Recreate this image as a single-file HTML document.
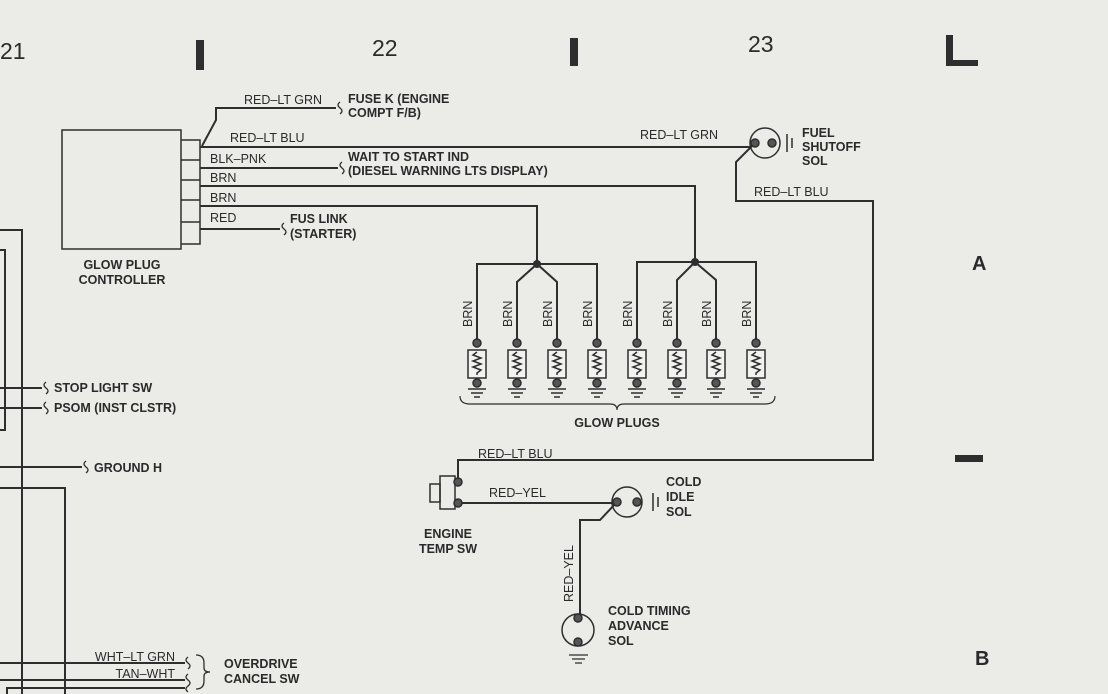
<!DOCTYPE html>
<html><head><meta charset="utf-8"><style>
html,body{margin:0;padding:0;background:#ebebe7;}
svg{display:block;}
text{font-family:"Liberation Sans",sans-serif;fill:#2a2a2a;}
.b{font-weight:bold;font-size:12.5px;}
.w{font-size:12.5px;}
</style></head><body>
<svg width="1108" height="694" viewBox="0 0 1108 694" xmlns="http://www.w3.org/2000/svg">
<defs>
<g id="p" stroke="#2e2e2e" stroke-width="1.5" fill="none"><circle cx="0" cy="343" r="4" fill="#555"/><rect x="-9" y="350" width="18" height="28" fill="#f2f2ee"/><path d="M0 352 l-4 3 l8 3 l-8 3 l8 3 l-8 3 l8 3 l-4 3 v2"/><circle cx="0" cy="383" r="4" fill="#555"/><path d="M-9 389 H9 M-6 393 H6 M-3 397 H3"/></g>
</defs>
<rect width="1108" height="694" fill="#ebebe7"/>
<g stroke="#2e2e2e" stroke-width="2" fill="none">
<path d="M0 230 H22 V694"/>
<path d="M0 250 H5 V430 H0"/>
<path d="M0 388 H42"/><path d="M0 408 H42"/>
<path d="M0 467 H82"/>
<path d="M0 488 H65 V694"/>
<path d="M0 663 H185"/><path d="M0 680 H185"/>
<path d="M7 694 V688 H185"/>
<rect x="62" y="130" width="119" height="119" stroke-width="1.5"/>
<path d="M181 140 H200 V244 H181 M181 160 H200 M181 180 H200 M181 200 H200 M181 222 H200" stroke-width="1.5"/>
<path d="M202 146 L216 120 V108 H336"/>
<path d="M200 147 H750"/>
<path d="M200 168 H338"/>
<path d="M200 186 H695 V262"/>
<path d="M200 206 H537 V264"/>
<path d="M200 229 H280"/>
<path d="M477 343 V264 H597 V343"/>
<path d="M537 264 L517 282 V343 M537 264 L557 282 V343"/>
<path d="M637 343 V262 H756 V343"/>
<path d="M695 262 L677 280 V343 M695 262 L716 280 V343"/>
<path d="M460 396 Q460 404 470 404 H610 Q617 404 617 410 Q617 404 624 404 H765 Q775 404 775 396" stroke-width="1.2"/>
<circle cx="765" cy="143" r="15" stroke-width="1.5"/>
<path d="M755 143 L736 162 V201 H873 V460 H458 V482"/>
<path d="M787 134 V152 M792 138 V148" stroke-width="1.5"/>
<rect x="440" y="476" width="15" height="33" stroke-width="1.5"/>
<rect x="430" y="484" width="10" height="18" stroke-width="1.5"/>
<path d="M458 503 H617"/>
<circle cx="627" cy="502" r="15" stroke-width="1.5"/>
<path d="M653 493 V511 M658 497 V507" stroke-width="1.5"/>
<path d="M617 502 L600 520 H580 V618"/>
<circle cx="578" cy="630" r="16" stroke-width="1.5"/>
<path d="M569 655 H588 M572 659 H585 M575 663 H582" stroke-width="1.3"/>
<path d="M340 102 q-4 3 0 6 q4 3 0 6 M342 162 q-4 3 0 6 q4 3 0 6 M284 223 q-4 3 0 6 q4 3 0 6 M46 382 q-4 3 0 6 q4 3 0 6 M46 402 q-4 3 0 6 q4 3 0 6 M86 461 q-4 3 0 6 q4 3 0 6 M188 657 q-4 3 0 6 q4 3 0 6 M188 674 q-4 3 0 6 q4 3 0 6 M188 686 q-4 3 0 6" stroke-width="1.3"/>
<path d="M196 655 q8 0 8 8 v5 q0 4 6 4 q-6 0 -6 4 v5 q0 8 -8 8" stroke-width="1.3"/>
</g>
<g fill="#555" stroke="#2e2e2e" stroke-width="1.5">
<circle cx="755" cy="143" r="4"/><circle cx="772" cy="143" r="4"/>
<circle cx="458" cy="482" r="4"/><circle cx="458" cy="503" r="4"/>
<circle cx="617" cy="502" r="4"/><circle cx="637" cy="502" r="4"/>
<circle cx="578" cy="618" r="4"/><circle cx="578" cy="642" r="4"/>
</g>
<use href="#p" x="477"/><use href="#p" x="517"/><use href="#p" x="557"/><use href="#p" x="597"/>
<use href="#p" x="637"/><use href="#p" x="677"/><use href="#p" x="716"/><use href="#p" x="756"/>
<g fill="#2e2e2e">
<circle cx="537" cy="264" r="4"/><circle cx="695" cy="262" r="4"/>
<rect x="196" y="40" width="8" height="30"/><rect x="570" y="38" width="8" height="28"/>
<rect x="946" y="35" width="7" height="31"/><rect x="946" y="60" width="32" height="6"/>
<rect x="955" y="455" width="28" height="7"/>
</g>
<text x="0" y="59" font-size="23">21</text>
<text x="372" y="56" font-size="23">22</text>
<text x="748" y="52" font-size="23">23</text>
<text x="972" y="270" font-size="20" font-weight="bold">A</text>
<text x="975" y="665" font-size="20" font-weight="bold">B</text>
<text class="w" x="244" y="104">RED–LT GRN</text>
<text class="b" x="348" y="103">FUSE K (ENGINE</text>
<text class="b" x="348" y="117">COMPT F/B)</text>
<text class="w" x="230" y="142">RED–LT BLU</text>
<text class="w" x="640" y="139">RED–LT GRN</text>
<text class="w" x="210" y="163">BLK–PNK</text>
<text class="b" x="348" y="161">WAIT TO START IND</text>
<text class="b" x="348" y="175">(DIESEL WARNING LTS DISPLAY)</text>
<text class="w" x="210" y="182">BRN</text>
<text class="w" x="210" y="202">BRN</text>
<text class="w" x="210" y="222">RED</text>
<text class="b" x="290" y="223">FUS LINK</text>
<text class="b" x="290" y="238">(STARTER)</text>
<text class="b" x="122" y="269" text-anchor="middle">GLOW PLUG</text>
<text class="b" x="122" y="284" text-anchor="middle">CONTROLLER</text>
<text class="b" x="802" y="137">FUEL</text>
<text class="b" x="802" y="151">SHUTOFF</text>
<text class="b" x="802" y="165">SOL</text>
<text class="w" x="754" y="196">RED–LT BLU</text>
<text transform="translate(472,327) rotate(-90)" class="w">BRN</text>
<text transform="translate(512,327) rotate(-90)" class="w">BRN</text>
<text transform="translate(552,327) rotate(-90)" class="w">BRN</text>
<text transform="translate(592,327) rotate(-90)" class="w">BRN</text>
<text transform="translate(632,327) rotate(-90)" class="w">BRN</text>
<text transform="translate(672,327) rotate(-90)" class="w">BRN</text>
<text transform="translate(711,327) rotate(-90)" class="w">BRN</text>
<text transform="translate(751,327) rotate(-90)" class="w">BRN</text>
<text class="b" x="617" y="427" text-anchor="middle">GLOW PLUGS</text>
<text class="b" x="54" y="392">STOP LIGHT SW</text>
<text class="b" x="54" y="412">PSOM (INST CLSTR)</text>
<text class="b" x="94" y="472">GROUND H</text>
<text class="w" x="478" y="458">RED–LT BLU</text>
<text class="w" x="489" y="497">RED–YEL</text>
<text class="b" x="448" y="538" text-anchor="middle">ENGINE</text>
<text class="b" x="448" y="553" text-anchor="middle">TEMP SW</text>
<text class="b" x="666" y="486">COLD</text>
<text class="b" x="666" y="501">IDLE</text>
<text class="b" x="666" y="516">SOL</text>
<text transform="translate(573,602) rotate(-90)" class="w">RED–YEL</text>
<text class="b" x="608" y="615">COLD TIMING</text>
<text class="b" x="608" y="630">ADVANCE</text>
<text class="b" x="608" y="645">SOL</text>
<text class="w" x="175" y="661" text-anchor="end">WHT–LT GRN</text>
<text class="w" x="175" y="678" text-anchor="end">TAN–WHT</text>
<text class="b" x="224" y="668">OVERDRIVE</text>
<text class="b" x="224" y="683">CANCEL SW</text>
</svg>
</body></html>
